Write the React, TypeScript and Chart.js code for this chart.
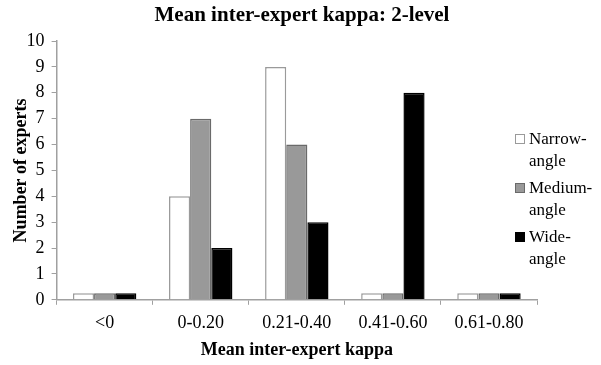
import React, { useEffect, useRef } from "react";
import { Chart, registerables } from "chart.js";

Chart.register(...registerables);

const categories = ["<0", "0-0.20", "0.21-0.40", "0.41-0.60", "0.61-0.80"];
const narrowAngle = [0.25, 4, 9, 0.25, 0.25];
const mediumAngle = [0.25, 7, 6, 0.25, 0.25];
const wideAngle = [0.25, 2, 3, 8, 0.25];
const seriesLabels = [["Narrow-", "angle"], ["Medium-", "angle"], ["Wide-", "angle"]];
const chartTitle = "Mean inter-expert kappa: 2-level";

const SERIF = "'Liberation Serif', 'Times New Roman', serif";

const overlayPlugin = {
  id: "overlay",
  afterDraw(chart: any) {
    const ctx = chart.ctx;
    ctx.save();
    // title
    ctx.fillStyle = "#000";
    ctx.font = "bold 21px " + SERIF;
    ctx.textAlign = "center";
    ctx.textBaseline = "middle";
    ctx.fillText(chartTitle, 302, 16);
    // legend
    const x0 = 516;
    const ys = [139, 188, 237];
    chart.data.datasets.forEach((ds: any, i: number) => {
      const y = ys[i];
      ctx.fillStyle = ds.backgroundColor;
      ctx.strokeStyle = ds.borderColor;
      ctx.lineWidth = 1;
      ctx.fillRect(x0 - 0.5, y - 4.5, 9, 9);
      ctx.strokeRect(x0 - 0.5, y - 4.5, 9, 9);
      ctx.fillStyle = "#000";
      ctx.font = "17px " + SERIF;
      ctx.textBaseline = "middle";
      ctx.textAlign = "left";
      const lines = seriesLabels[i];
      lines.forEach((l, j) => ctx.fillText(l, x0 + 13, y + 1 + j * 22));
    });
    ctx.restore();
  },
};

export default function App() {
  const ref = useRef<HTMLCanvasElement>(null);
  useEffect(() => {
    document.body.style.margin = "0";
    const chart = new Chart(ref.current!, {
      type: "bar",
      data: {
        labels: categories,
        datasets: [
          { label: "Narrow-angle", data: narrowAngle, backgroundColor: "#ffffff", borderColor: "#9a9a9a", borderWidth: 1.5 },
          { label: "Medium-angle", data: mediumAngle, backgroundColor: "#999999", borderColor: "#6a6a6a", borderWidth: 1.5 },
          { label: "Wide-angle", data: wideAngle, backgroundColor: "#000000", borderColor: "#000000", borderWidth: 1.5 },
        ],
      },
      options: {
        responsive: false,
        animation: false,
        devicePixelRatio: 1,
        layout: { padding: { left: 0, right: 64, top: 41, bottom: 4 } },
        datasets: { bar: { categoryPercentage: 0.66, barPercentage: 1 } },
        plugins: {
          legend: { display: false },
          tooltip: { enabled: false },
          title: { display: false },
        },
        scales: {
          x: {
            offset: true,
            grid: { display: true, drawOnChartArea: false, offset: true, tickLength: 5, color: "#a0a0a0", tickColor: "#a0a0a0" },
            border: { color: "#a0a0a0", width: 1.5 },
            ticks: { color: "#000", font: { family: SERIF, size: 18 }, padding: 8 },
            title: { display: true, text: "Mean inter-expert kappa", color: "#000", font: { family: SERIF, size: 18, weight: "bold" }, padding: { top: -3, bottom: 0 } },
          },
          y: {
            min: 0,
            max: 10,
            grid: { display: true, drawOnChartArea: false, tickLength: 5, color: "#a0a0a0", tickColor: "#a0a0a0" },
            border: { color: "#a0a0a0", width: 1.5 },
            ticks: { stepSize: 1, color: "#000", font: { family: SERIF, size: 18 }, padding: 7 },
            title: { display: true, text: "Number of experts", color: "#000", font: { family: SERIF, size: 18, weight: "bold" }, padding: { top: 11, bottom: -13 } },
          },
        },
      },
      plugins: [overlayPlugin],
    });
    return () => chart.destroy();
  }, []);
  return <canvas ref={ref} width={601} height={365} style={{ display: "block" }} />;
}
